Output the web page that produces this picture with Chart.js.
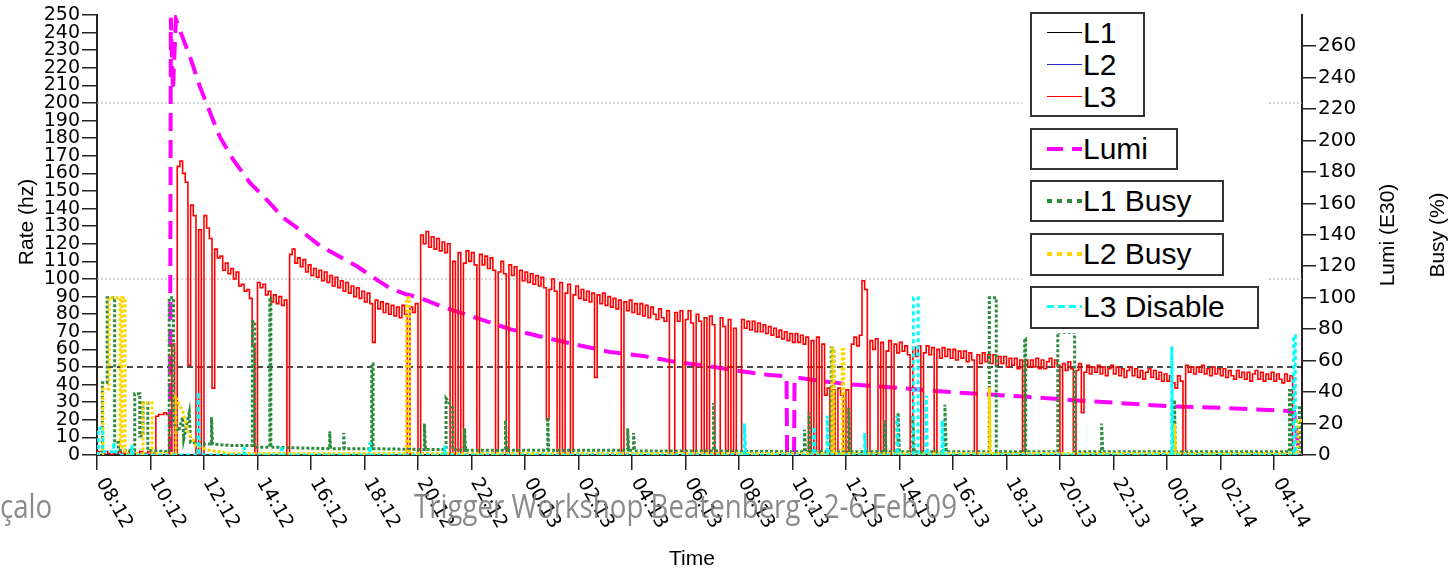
<!DOCTYPE html>
<html>
<head>
<meta charset="utf-8">
<script src="https://cdn.jsdelivr.net/npm/chart.js@4.4.1/dist/chart.umd.min.js"></script>
<style>
  body { margin: 0; background: #fff; }
  #wrap { position: relative; width: 1450px; height: 569px; overflow: hidden; }
  #chart { position: absolute; left: 0; top: 0; }
  .lgbg { position: absolute; left: 1022px; top: 6px; width: 245px; height: 327px; background: #fff; }
  .box { position: absolute; left: 1030px; border: 2px solid #333; box-sizing: border-box; background: #fff; }
  .lt { position: absolute; left: 1083px; font-family: "Liberation Sans", Arial, sans-serif; font-size: 30px; line-height: 30px; color: #000; white-space: nowrap; }
  .ln { position: absolute; left: 1047px; width: 35px; }
  .foot { position: absolute; top: 484px; font-family: "Open Sans", sans-serif; font-size: 32px; line-height: 44px; color: rgba(125,125,125,0.9); white-space: nowrap; transform-origin: 0 0; }
</style>
</head>
<body>
<div id="wrap">
  <canvas id="chart" width="1450" height="569"></canvas>

  <div class="lgbg"></div>
  <div class="box" style="top:12px;width:115px;height:105px"></div>
  <div class="ln" style="top:32px;height:0;border-top:1.5px solid #000"></div>
  <div class="lt" style="top:18px">L1</div>
  <div class="ln" style="top:64px;height:0;border-top:1.5px solid #2b2bd0"></div>
  <div class="lt" style="top:50px">L2</div>
  <div class="ln" style="top:96px;height:0;border-top:1.5px solid #ff0000"></div>
  <div class="lt" style="top:82px">L3</div>

  <div class="box" style="top:128px;width:148px;height:42px"></div>
  <div class="ln" style="top:147px;height:4px;background:repeating-linear-gradient(90deg,#ff00ff 0 16px,transparent 16px 25px)"></div>
  <div class="lt" style="top:134px">Lumi</div>

  <div class="box" style="top:180px;width:194px;height:42px"></div>
  <div class="ln" style="top:199px;height:4px;background:repeating-linear-gradient(90deg,#2e8b3e 0 5px,transparent 5px 10px)"></div>
  <div class="lt" style="top:186px">L1 Busy</div>

  <div class="box" style="top:233px;width:194px;height:43px"></div>
  <div class="ln" style="top:252px;height:4px;background:repeating-linear-gradient(90deg,#ffd700 0 5px,transparent 5px 10px)"></div>
  <div class="lt" style="top:239px">L2 Busy</div>

  <div class="box" style="top:286px;width:229px;height:43px"></div>
  <div class="ln" style="top:305px;height:3px;background:repeating-linear-gradient(90deg,#00ffff 0 7px,transparent 7px 11px)"></div>
  <div class="lt" style="top:292px">L3 Disable</div>

  <div class="foot" id="foot1" style="left:0px">çalo</div>
  <div class="foot" id="foot2" style="left:414px">Trigger Workshop Beatenberg - 2-6 Feb 09</div>
</div>

<script>
// time axis is in hours since 08:00 on day 12
const xTickLabels = ["08:12", "10:12", "12:12", "14:12", "16:12", "18:12", "20:12", "22:12",
  "00:13", "02:13", "04:13", "06:13", "08:13", "10:13", "12:13", "14:13", "16:13", "18:13",
  "20:13", "22:13", "00:14", "02:14", "04:14"];
const rightTicks = [0, 20, 40, 60, 80, 100, 120, 140, 160, 180, 200, 220, 240, 260];

// L3 rate (hz), one value every 0.1 h
const l3Step = 0.1;
const l3Rate = [
  2,2,1,2,1,0,1,1,2,1, 1,1,2,1,1,1,2,1,1,2, 1,1,22,23,23,24,23,0,63,0,
  164,167,160,155,51,142,136,0,128,0, 136,129,123,38,117,112,113,105,109,103,
  106,100,104,96,97,93,94,89,62,0, 98,95,97,91,93,87,91,86,90,85,
  88,0,114,117,109,112,107,111,104,108, 102,106,101,105,99,104,98,102,96,101,
  95,99,93,98,92,96,90,95,89,93, 87,92,86,64,88,83,87,81,86,80,
  85,79,84,78,85,80,0,84,81,86, 0,125,120,127,118,124,117,123,116,121,
  115,120,0,110,0,115,0,109,116,110, 115,108,0,114,108,113,106,112,105,0,
  104,110,103,0,108,102,107,0,105,99, 104,98,103,97,102,96,101,95,20,94,
  100,93,0,98,0,92,97,0,91,96, 89,94,88,93,87,92,44,91,86,92,
  85,90,84,89,83,88,0,87,82,88, 81,86,80,86,79,85,78,84,80,77,
  83,78,76,82,0,0,81,76,82,0, 77,82,75,0,80,76,0,78,0,79,
  74,0,0,78,73,0,77,0,72,0, 0,77,72,76,71,76,70,75,70,74,
  69,73,68,72,67,71,66,70,65,69, 64,69,64,68,63,67,0,65,0,67,
  0,63,34,38,0,37,0,38,34,0, 37,0,63,67,62,68,99,94,0,65,
  60,66,0,64,0,59,65,0,63,58, 64,59,62,57,0,61,56,62,0,58,
  62,57,61,0,60,55,61,56,60,55, 60,54,59,55,59,53,58,54,0,57,
  52,58,53,57,52,57,51,56,52,56, 50,55,51,55,49,54,0,54,50,54,
  50,55,49,54,49,53,55,50,54,51, 0,52,48,53,49,0,48,52,24,47,
  51,46,50,47,51,46,50,45,49,51, 46,50,45,49,44,48,50,45,49,44,
  48,43,47,49,44,48,43,47,42,46, 42,45,41,38,45,42,0,51,47,50,
  46,50,47,51,46,49,45,50,46,49, 45,49,44,48,45,43,48,44,47,43,
  47,42,46,48,43,47,42,46,43,47, 42,46,43,41,46,42,45,0,0,0,
  0
];

// Lumi (E30): [hour, value]
const lumi = [
  [2.73,0],[2.76,278],[2.84,232],[2.95,277],[3.10,270],[3.48,253],[3.85,234],[4.22,218],
  [4.60,202],[5.08,188],[5.72,173],[6.36,162],[6.95,151],[7.59,143],[8.34,133],[9.08,126],
  [9.72,120],[10.32,113],[10.95,106],[11.59,102],[12.07,100],[12.93,94],[14.21,87],[15.44,80],
  [16.67,75],[17.94,70],[19.18,65.5],[20.41,63],[21.68,59],[22.65,57],[23.78,54],[25.05,51],
  [25.78,50],[25.80,0],[26.06,0],[26.08,49],[26.28,49],[26.65,48],[28.07,45],[30.02,42.6],
  [31.89,40],[34.77,37],[36.37,35],[38.24,33],[40.11,31],[41.98,30],[44.49,28],[44.75,27.5],
  [44.95,0]
];

// L1 busy (%)
const l1Busy = [
  [0,1],[0.20,1],[0.20,46],[0.38,46],[0.38,100],[0.66,100],[0.66,8],[0.80,8],[0.80,3],[1.41,3],
  [1.41,39],[1.60,39],[1.60,12],[1.72,12],[1.72,33],[1.90,33],[1.90,3],[2.70,2],[2.70,100],[2.86,100],
  [2.86,20],[3.05,15],[3.20,24],[3.24,10],[3.45,27],[3.50,8],[3.90,7],[4.28,7],[4.28,24],[4.32,7],
  [5.00,6],[5.81,6],[5.81,85],[5.90,85],[5.90,5],[6.46,5],[6.46,100],[6.50,100],[6.50,5],[8.70,4],
  [8.70,15],[8.74,4],[9.22,4],[9.22,14],[9.26,4],[10.27,4],[10.27,58],[10.32,58],[10.32,4],[12.24,3.5],
  [12.24,20],[12.28,3.5],[13.05,3.5],[13.05,36],[13.30,30],[13.30,3.5],[13.74,3],[13.74,17],[13.78,3],[15.27,3],
  [15.27,22],[15.31,3],[16.85,3],[16.85,24],[16.89,3],[19.84,3],[19.84,17],[19.88,3],[20.06,3],[20.06,14],
  [20.10,2.5],[23.05,2.5],[23.05,33],[23.10,2.5],[26.45,2],[26.45,16],[26.49,2],[26.62,2],[26.62,27],[26.66,2],
  [27.45,2],[27.45,68],[27.55,68],[27.55,2],[28.10,2],[28.10,30],[28.16,2],[29.45,2],[29.45,22],[29.50,2],
  [29.95,2],[29.95,27],[30.00,2],[30.50,2],[30.50,25],[30.55,2],[31.70,2],[31.70,32],[31.75,2],[33.36,2],
  [33.36,100],[33.62,100],[33.62,2],[34.68,2],[34.68,74],[34.72,74],[34.72,2],[35.92,2],[35.92,78],[36.55,78],
  [36.55,2],[37.56,2],[37.56,20],[37.60,2],[40.28,2],[40.28,35],[40.32,2],[44.58,2],[44.58,41],[44.63,41],
  [44.63,2],[44.95,2],[44.95,30],[45.05,30]
];

// L2 busy (%)
const l2Busy = [
  [0,0.5],[0.22,0.5],[0.22,42],[0.45,42],[0.45,100],[0.86,100],[0.86,5],[0.93,5],[0.93,100],[1.05,100],
  [1.05,1],[1.72,1],[1.72,33],[2.06,33],[2.06,1],[2.95,1],[2.95,36],[3.20,28],[3.40,15],[3.70,6],
  [4.20,3],[5.00,1],[11.57,1],[11.57,100],[11.68,100],[11.68,1],[27.48,1],[27.48,68],[27.55,68],[27.55,1],
  [27.86,1],[27.86,67],[27.92,67],[27.92,1],[33.36,1],[33.36,43],[33.41,1],[40.28,1],[40.28,20],[40.33,1],
  [44.90,1],[44.90,22],[45.05,22]
];

// L3 disable (%)
const l3Disable = [
  [0,0],[0.04,0],[0.04,17],[0.22,17],[0.22,2],[0.62,2],[0.62,8],[0.70,2],[0.90,0],[1.30,0],
  [1.30,6],[1.35,0],[3.78,0],[3.78,40],[3.84,0],[5.50,0],[5.50,5],[5.55,0],[6.90,0],[6.90,6],
  [6.95,0],[10.20,0],[10.20,8],[10.25,0],[13.00,0],[13.00,6],[13.05,0],[24.20,0],[24.20,20],[24.26,0],
  [26.80,0],[26.80,18],[26.85,0],[27.30,0],[27.30,25],[27.35,0],[28.70,0],[28.70,14],[28.75,0],[29.90,0],
  [29.90,25],[29.95,0],[30.52,0],[30.52,100],[30.70,100],[30.70,0],[31.00,0],[31.00,38],[31.05,0],[31.60,0],
  [31.60,22],[31.65,0],[40.18,0],[40.18,69],[40.22,0],[44.74,0],[44.74,76],[44.80,76],[44.80,0],[45.05,0]
];

// reference levels on the rate axis
const refLevels = [50, 100, 200];

const xMax = 45.05;
const toXY = pts => pts.map(p => ({ x: p[0], y: p[1] }));

const refSets = refLevels.map(v => ({
  data: [{ x: 0, y: v }, { x: xMax, y: v }],
  yAxisID: 'y',
  borderColor: v === 50 ? '#111' : '#aaa',
  borderDash: v === 50 ? [6, 4] : [2, 2],
  borderWidth: v === 50 ? 1.3 : 1,
  pointRadius: 0,
  order: 10
}));

const texts = {
  id: 'texts',
  afterDraw(chart) {
    const ctx = chart.ctx;
    const xs = chart.scales.x;
    ctx.save();
    ctx.fillStyle = '#000';
    ctx.font = '19px "DejaVu Sans"';
    ctx.textAlign = 'left';
    ctx.textBaseline = 'alphabetic';
    xs.ticks.forEach((t, k) => {
      if (!xTickLabels[k]) return;
      const px = xs.getPixelForValue(t.value);
      ctx.save();
      ctx.translate(px - 1, 482);
      ctx.rotate(60 * Math.PI / 180);
      ctx.fillText(xTickLabels[k], 0, 0);
      ctx.restore();
    });

    ctx.textAlign = 'center';
    ctx.textBaseline = 'middle';
    ctx.font = '21px "Liberation Sans"';
    [['Rate (hz)', 27, 222], ['Lumi (E30)', 1388, 235], ['Busy (%)', 1438, 235]].forEach(a => {
      ctx.save();
      ctx.translate(a[1], a[2]);
      ctx.rotate(-Math.PI / 2);
      ctx.fillText(a[0], 0, 0);
      ctx.restore();
    });
    ctx.fillText('Time', 692, 559);
    ctx.restore();
  }
};

new Chart(document.getElementById('chart'), {
  type: 'line',
  data: {
    datasets: [
      ...refSets,
      {
        label: 'Lumi',
        data: toXY(lumi),
        yAxisID: 'y2',
        borderColor: '#ff00ff',
        borderWidth: 4,
        borderDash: [18, 9],
        pointRadius: 0,
        order: 6
      },
      {
        label: 'L3',
        data: l3Rate.map((v, i) => ({ x: i * l3Step, y: v })),
        yAxisID: 'y',
        borderColor: '#ff0000',
        borderWidth: 1.6,
        stepped: true,
        pointRadius: 0,
        order: 5
      },
      {
        label: 'L1 Busy',
        data: toXY(l1Busy),
        yAxisID: 'y2',
        borderColor: '#2e8b3e',
        borderWidth: 3,
        borderDash: [3, 2],
        pointRadius: 0,
        order: 3
      },
      {
        label: 'L2 Busy',
        data: toXY(l2Busy),
        yAxisID: 'y2',
        borderColor: '#ffd700',
        borderWidth: 3,
        borderDash: [3, 2],
        pointRadius: 0,
        order: 2
      },
      {
        label: 'L3 Disable',
        data: toXY(l3Disable),
        yAxisID: 'y2',
        borderColor: '#00ffff',
        borderWidth: 3,
        borderDash: [4, 3],
        pointRadius: 0,
        order: 1
      }
    ]
  },
  options: {
    responsive: false,
    animation: false,
    layout: { padding: { top: 15, left: 0, right: 0, bottom: 0 } },
    plugins: { legend: { display: false }, tooltip: { enabled: false } },
    scales: {
      x: {
        type: 'linear',
        min: 0,
        max: xMax,
        afterFit: s => { s.height = 114; },
        ticks: { stepSize: 2, includeBounds: false, display: false },
        grid: { drawOnChartArea: false, color: '#222', lineWidth: 1.5, tickLength: 15 },
        border: { color: '#222', width: 2 }
      },
      y: {
        position: 'left',
        min: 0,
        max: 250,
        afterFit: s => { s.width = 97; },
        ticks: { stepSize: 10, autoSkip: false, color: '#000', padding: 2, font: { family: 'DejaVu Sans', size: 19 } },
        grid: { drawOnChartArea: false, color: '#222', lineWidth: 1.5, tickLength: 15 },
        border: { color: '#222', width: 2 }
      },
      y2: {
        position: 'right',
        min: 0,
        max: 279.7,
        afterFit: s => { s.width = 148; },
        afterBuildTicks: s => { s.ticks = rightTicks.map(v => ({ value: v })); },
        ticks: { autoSkip: false, color: '#000', padding: 2, font: { family: 'DejaVu Sans', size: 20 } },
        grid: { drawOnChartArea: false, color: '#222', lineWidth: 1.5, tickLength: 14 },
        border: { color: '#222', width: 2 }
      }
    }
  },
  plugins: [texts]
});

// squeeze the footer text to the slide width it had
const f2 = document.getElementById('foot2');
const w2 = f2.getBoundingClientRect().width;
const sx = 543 / w2;
f2.style.transform = 'scaleX(' + sx + ')';
document.getElementById('foot1').style.transform = 'scaleX(' + sx + ')';
</script>
</body>
</html>
